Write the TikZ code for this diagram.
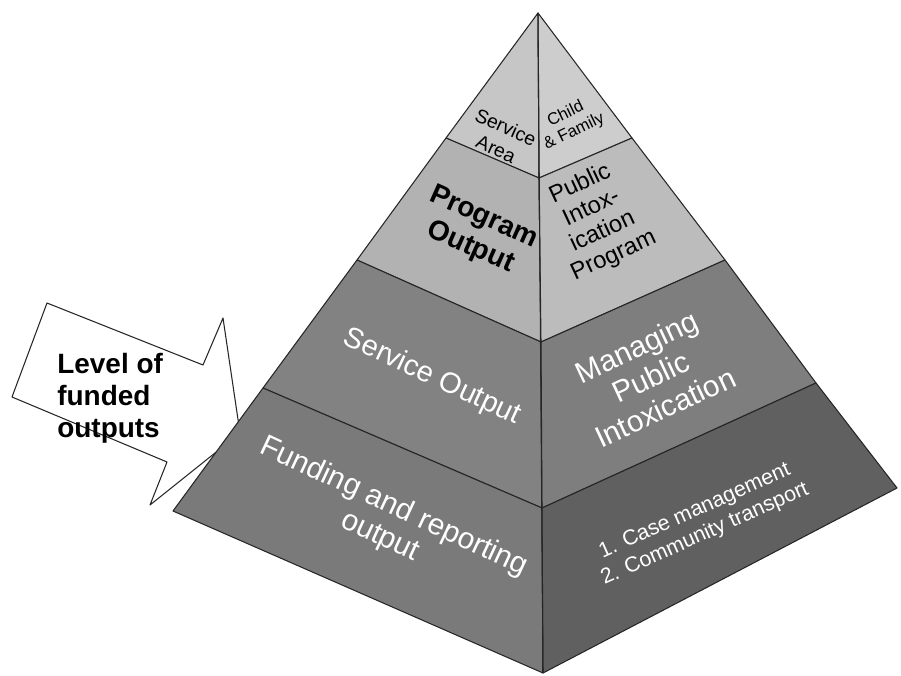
\documentclass[tikz,border=0pt]{standalone}
\usepackage{fontspec}
\setmainfont{Liberation Sans}
\usepackage{tikz}
\usetikzlibrary{positioning}
\definecolor{tierAl}{RGB}{198,198,198}
\definecolor{tierAr}{RGB}{205,205,205}
\definecolor{tierBl}{RGB}{178,178,178}
\definecolor{tierBr}{RGB}{188,188,188}
\definecolor{tierCl}{RGB}{130,130,130}
\definecolor{tierCr}{RGB}{126,126,126}
\definecolor{tierDl}{RGB}{122,122,122}
\definecolor{tierDr}{RGB}{96,96,96}

\begin{document}
\begin{tikzpicture}[x=0.02cm,y=-0.02cm,line join=round,
  edge/.style={draw=black!85,line width=0.6pt},
  blk/.style={text=black,align=center,inner sep=0pt},
  wht/.style={text=white,align=center,inner sep=0pt}]
  \useasboundingbox (0,0) rectangle (901,675);
  % callout arrow, sits behind the pyramid
  \draw[edge,fill=white] (47,303)--(203,365)--(223,318)--(240,433)--(150,505)--(167,462)--(12,397)--cycle;
  \node[blk,align=left,anchor=west,font=\fontsize{15.9}{18.1}\selectfont\bfseries] (lvl) at (57,398) {Level of\\funded\\outputs};
  % pyramid corners and tier breaks
  \coordinate (A) at (538,13);
  \coordinate (L1) at (446,138); \coordinate (C1) at (539,178); \coordinate (R1) at (632,138);
  \coordinate (L2) at (357,260); \coordinate (C2) at (541,342); \coordinate (R2) at (725,260);
  \coordinate (L3) at (263,388); \coordinate (C3) at (542,508); \coordinate (R3) at (816,383);
  \coordinate (L4) at (173,511); \coordinate (C4) at (543,673); \coordinate (R4) at (897,488);
  % faces, top to bottom
  \filldraw[edge,fill=tierAl] (A)--(L1)--(C1)--cycle;
  \filldraw[edge,fill=tierAr] (A)--(C1)--(R1)--cycle;
  \filldraw[edge,fill=tierBl] (L1)--(L2)--(C2)--(C1)--cycle;
  \filldraw[edge,fill=tierBr] (C1)--(C2)--(R2)--(R1)--cycle;
  \filldraw[edge,fill=tierCl] (L2)--(L3)--(C3)--(C2)--cycle;
  \filldraw[edge,fill=tierCr] (C2)--(C3)--(R3)--(R2)--cycle;
  \filldraw[edge,fill=tierDl] (L3)--(L4)--(C4)--(C3)--cycle;
  \filldraw[edge,fill=tierDr] (C3)--(C4)--(R4)--(R3)--cycle;
  \draw[edge] (A)--(C4);
  % left face labels
  \node[blk,rotate=-24,font=\fontsize{11}{13.5}\selectfont] (area) at (501,138) {Service\\Area};
  \node[blk,rotate=-24,font=\fontsize{16}{18.5}\selectfont\bfseries] (prog) at (477,233) {Program\\Output};
  \node[wht,rotate=-25,font=\fontsize{16.5}{19}\selectfont] (serv) at (432,377) {Service Output};
  \node[wht,rotate=-25,font=\fontsize{17}{18.7}\selectfont] (fund) at (387,522) {Funding and reporting\\output};
  % right face labels
  \node[blk,rotate=26,font=\fontsize{9.5}{11}\selectfont] (child) at (570,123) {Child\\\& Family};
  \node[blk,rotate=25,font=\fontsize{13.5}{15}\selectfont] (pub) at (597,220) {Public\\Intox-\\ication\\Program};
  \node[wht,rotate=25,font=\fontsize{17}{19}\selectfont] (man) at (651,377) {Managing\\Public\\Intoxication};
  \node[wht,rotate=24,font=\fontsize{12.2}{14.3}\selectfont] (cases) at (700,523) {1. Case management\\2. Community transport};
\end{tikzpicture}
\end{document}
